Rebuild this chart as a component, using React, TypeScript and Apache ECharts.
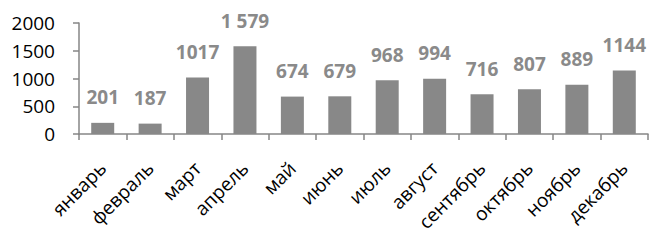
import React, { useEffect, useRef } from "react";
import * as echarts from "echarts";

const categories = ["январь", "февраль", "март", "апрель", "май", "июнь", "июль", "август", "сентябрь", "октябрь", "ноябрь", "декабрь"];
const values = [201, 187, 1017, 1579, 674, 679, 968, 994, 716, 807, 889, 1144];
const valueLabels = ["201", "187", "1017", "1 579", "674", "679", "968", "994", "716", "807", "889", "1144"];
const yTicks = { min: 0, max: 2000, interval: 500 };

export default function App() {
  const ref = useRef<HTMLDivElement>(null);
  useEffect(() => {
    if (!ref.current) return;
    const chart = echarts.init(ref.current, null, { renderer: "svg" });
    chart.setOption({
      animation: false,
      backgroundColor: "#ffffff",
      grid: { left: 79, right: 3, top: 23, bottom: 110, containLabel: false },
      xAxis: {
        type: "category",
        data: categories,
        axisLine: { show: true, lineStyle: { color: "#868686", width: 1.5 } },
        axisTick: { show: true, length: 6, lineStyle: { color: "#868686", width: 1.5 } },
        axisLabel: {
          rotate: 45,
          interval: 0,
          margin: 31,
          verticalAlign: "middle",
          padding: [6, 0, 0, 0],
          color: "#000000",
          fontFamily: "Open Sans",
          fontSize: 19,
        },
      },
      yAxis: {
        type: "value",
        min: yTicks.min,
        max: yTicks.max,
        interval: yTicks.interval,
        splitLine: { show: false },
        axisLine: { show: true, lineStyle: { color: "#868686", width: 1.5 } },
        axisTick: { show: true, length: 6, lineStyle: { color: "#868686", width: 1.5 } },
        axisLabel: {
          margin: 24,
          color: "#000000",
          fontFamily: "Open Sans",
          fontSize: 19,
          formatter: (v: number) => String(v),
        },
      },
      series: [
        {
          type: "bar",
          data: values,
          barWidth: 23,
          itemStyle: { color: "#888888" },
          label: {
            show: true,
            position: "top",
            distance: 16,
            color: "#8a8a8a",
            fontFamily: "Open Sans",
            fontWeight: "bold",
            fontSize: 19,
            formatter: (p: any) => valueLabels[p.dataIndex],
          },
        },
      ],
    });
    return () => chart.dispose();
  }, []);
  return (
    <div
      ref={ref}
      style={{ position: "fixed", left: 0, top: 0, width: 651, height: 244 }}
    />
  );
}
